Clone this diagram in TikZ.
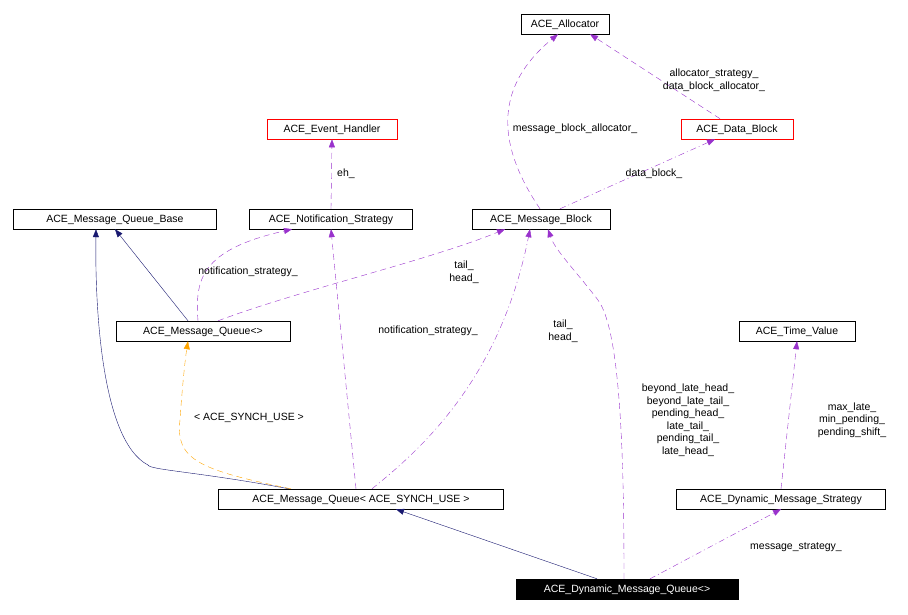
\documentclass[tikz,border=0pt]{standalone}
\usepackage{fontspec}
\setmainfont{Liberation Sans}
\usetikzlibrary{arrows.meta,positioning}
\definecolor{useclr}{RGB}{153,50,204}
\definecolor{inhclr}{RGB}{25,25,112}
\definecolor{tplclr}{RGB}{255,165,0}
\definecolor{warnclr}{RGB}{255,0,0}
\begin{document}
\begin{tikzpicture}[x=1pt, y=-1pt,
  cls/.style={draw, fill=white, inner sep=0pt, minimum height=20pt, font=\fontsize{10.5}{12.5}\selectfont, text height=8pt, text depth=2pt},
  warn/.style={cls, color=warnclr, fill=white, text=black, line width=0.6pt},
  main/.style={cls, fill=black, text=white},
  inh/.style={-{Triangle[length=8pt,width=6pt]}, draw=inhclr},
  use/.style={-{Triangle[length=8pt,width=6pt]}, draw=useclr, dashed, dash pattern=on 6pt off 4pt},
  usedot/.style={use, dash pattern=on 6pt off 3pt on 1pt off 3pt},
  tpl/.style={-{Triangle[length=8pt,width=6pt]}, draw=tplclr, dashed, dash pattern=on 6pt off 4pt},
  lab/.style={font=\fontsize{10.5}{12.5}\selectfont, align=center, inner sep=0pt}
]
\useasboundingbox (0,0) rectangle (908,614);
\node[cls, minimum width=88pt] (alloc) at (565,24) {ACE\_Allocator};
\node[warn, minimum width=112pt] (data) at (737,129) {ACE\_Data\_Block};
\node[warn, minimum width=130pt] (evh) at (332,129) {ACE\_Event\_Handler};
\node[cls, minimum width=203pt] (mqbase) at (115,219) {ACE\_Message\_Queue\_Base};
\node[cls, minimum width=163pt] (notif) at (331,219) {ACE\_Notification\_Strategy};
\node[cls, minimum width=138pt] (mblock) at (541,219) {ACE\_Message\_Block};
\node[cls, minimum width=174pt] (mqt) at (203,331) {ACE\_Message\_Queue<>};
\node[cls, minimum width=116pt] (tval) at (797,331) {ACE\_Time\_Value};
\node[cls, minimum width=285pt] (mqs) at (361,499) {ACE\_Message\_Queue< ACE\_SYNCH\_USE >};
\node[cls, minimum width=209pt] (dstrat) at (781,499) {ACE\_Dynamic\_Message\_Strategy};
\node[main, minimum width=222pt] (dmq) at (627,589) {ACE\_Dynamic\_Message\_Queue<>};

% inheritance
\draw[inh] ([xshift=-30pt]dmq.north) -- ([xshift=35pt]mqs.south);
\draw[inh] ([xshift=-72pt]mqs.north) .. controls (200,472) and (150,470) .. (148,465) .. controls (100,440) and (95,300) .. ([xshift=-19pt]mqbase.south);
\draw[inh] ([xshift=-15pt]mqt.north) -- (mqbase.south);
\draw[tpl] ([xshift=-70pt]mqs.north) .. controls (200,470) and (175,460) .. (180,420) .. controls (182,390) and (185,360) .. ([xshift=-15pt]mqt.south);
\node[lab] (l1) at (249,418) {< ACE\_SYNCH\_USE >};

% usage
\draw[usedot] ([xshift=23pt]dmq.north) -- (dstrat.south);
\node[lab] (l2) at (796,547) {message\_strategy\_};
\draw[use] ([xshift=-3pt]dmq.north) .. controls (624,450) and (620,330) .. (598,300) .. controls (575,270) and (555,250) .. ([xshift=7pt]mblock.south);
\node[lab] (l3) at (688,420) {beyond\_late\_head\_\\beyond\_late\_tail\_\\pending\_head\_\\late\_tail\_\\pending\_tail\_\\late\_head\_};
\draw[use] (dstrat.north) -- (tval.south);
\node[lab] (l4) at (852,420) {max\_late\_\\min\_pending\_\\pending\_shift\_};
\draw[use] ([xshift=-5pt]mqs.north) -- (notif.south);
\node[lab] (l5) at (428,331) {notification\_strategy\_};
\draw[usedot] ([xshift=11pt]mqs.north) .. controls (420,450) and (500,380) .. ([xshift=-11pt]mblock.south);
\node[lab] (l6) at (563,331) {tail\_\\head\_};
\draw[use] ([xshift=-5pt]mqt.north) .. controls (195,280) and (200,250) .. ([xshift=-39pt]notif.south);
\node[lab] (l7) at (248,272) {notification\_strategy\_};
\draw[use] ([xshift=15pt]mqt.north) .. controls (300,290) and (430,260) .. ([xshift=-36pt]mblock.south);
\node[lab] (l8) at (464,272) {tail\_\\head\_};
\draw[use] ([xshift=-1pt]mblock.north) .. controls (500,150) and (490,90) .. ([xshift=-7pt]alloc.south);
\node[lab] (l9) at (575,129) {message\_block\_allocator\_};
\draw[usedot] ([xshift=19pt]mblock.north) -- ([xshift=-22pt]data.south);
\node[lab] (l10) at (654,174) {data\_block\_};
\draw[use] ([xshift=-17pt]data.north) -- ([xshift=25pt]alloc.south);
\node[lab] (l11) at (714,80) {allocator\_strategy\_\\data\_block\_allocator\_};
\draw[use] (notif.north) -- (evh.south);
\node[lab] (l12) at (346,174) {eh\_};
\end{tikzpicture}
\end{document}
